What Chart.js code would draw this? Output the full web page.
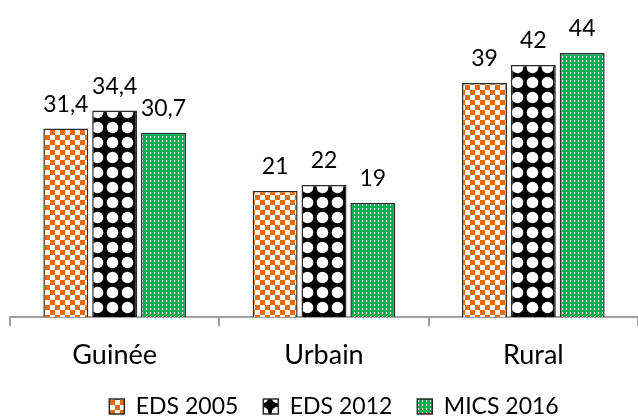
<!DOCTYPE html>
<html>
<head>
<meta charset="utf-8">
<script src="https://cdn.jsdelivr.net/npm/chart.js@4.4.1/dist/chart.umd.min.js"></script>
<style>
  html, body { margin: 0; padding: 0; background: #fff; }
  #wrap { width: 638px; height: 417px; }
</style>
</head>
<body>
<div id="wrap"><canvas id="chart" width="638" height="417"></canvas></div>
<script>
// Données
const categories = ['Guinée', 'Urbain', 'Rural'];
const seriesNames = ['EDS 2005', 'EDS 2012', 'MICS 2016'];
const eds2005 = [31.4, 21, 39];
const eds2012 = [34.4, 22, 42];
const mics2016 = [30.7, 19, 44];
const valueLabels = [
    ['31,4', '21', '39'],
    ['34,4', '22', '42'],
    ['30,7', '19', '44']
];

// Motifs de remplissage (style Excel)
function makePattern(size, draw) {
    const c = document.createElement('canvas');
    c.width = size;
    c.height = size;
    draw(c.getContext('2d'), size);
    return c.getContext('2d').createPattern(c, 'repeat');
}

const orangeChecker = makePattern(10, function(g, s) {
    g.fillStyle = '#ffffff';
    g.fillRect(0, 0, s, s);
    g.fillStyle = '#E36C09';
    g.fillRect(0, 0, 5, 5);
    g.fillRect(5, 5, 5, 5);
});

const blackDots = makePattern(15, function(g, s) {
    g.fillStyle = '#000000';
    g.fillRect(0, 0, s, s);
    g.fillStyle = '#ffffff';
    g.beginPath();
    g.arc(7.5, 7.5, 5.8, 0, Math.PI * 2);
    g.fill();
});

const greenDashes = makePattern(4, function(g, s) {
    g.fillStyle = '#00B050';
    g.fillRect(0, 0, s, s);
    g.fillStyle = '#ffffff';
    g.fillRect(2, 0, 1, 2);
});

// Étiquettes de valeur au-dessus des barres
const valueLabelPlugin = {
    id: 'valueLabels',
    afterDatasetsDraw(chart) {
        const ctx = chart.ctx;
        ctx.save();
        ctx.font = '23px Lato';
        ctx.fillStyle = '#000';
        ctx.textAlign = 'center';
        ctx.textBaseline = 'alphabetic';
        chart.data.datasets.forEach(function(ds, i) {
            chart.getDatasetMeta(i).data.forEach(function(bar, j) {
                ctx.fillText(valueLabels[i][j], bar.x, bar.y - 17);
            });
        });
        ctx.restore();
    }
};

// Légende plus compacte et un peu décalée à droite
const legendTweakPlugin = {
    id: 'legendTweak',
    beforeInit(chart) {
        const origFit = chart.legend.fit;
        chart.legend.fit = function() {
            origFit.call(this);
            this.height = 47;
        };
    },
    afterLayout(chart) {
        chart.legend.left += 10;
        chart.legend.right += 10;
    }
};

Chart.defaults.font.family = 'Lato';
Chart.defaults.color = '#000';

new Chart(document.getElementById('chart'), {
    type: 'bar',
    data: {
        labels: categories,
        datasets: [
            { label: seriesNames[0], data: eds2005, backgroundColor: orangeChecker },
            { label: seriesNames[1], data: eds2012, backgroundColor: blackDots },
            { label: seriesNames[2], data: mics2016, backgroundColor: greenDashes }
        ]
    },
    options: {
        responsive: false,
        devicePixelRatio: 1,
        animation: false,
        layout: { padding: { left: 10, right: 0, top: 17, bottom: 0 } },
        datasets: {
            bar: {
                borderColor: '#2b2b2b',
                borderWidth: 1.5,
                barPercentage: 0.92,
                categoryPercentage: 0.7
            }
        },
        plugins: {
            legend: {
                position: 'bottom',
                labels: {
                    font: { size: 23 },
                    boxWidth: 15,
                    boxHeight: 15,
                    padding: 25
                }
            },
            tooltip: { enabled: false }
        },
        scales: {
            x: {
                grid: {
                    display: true,
                    drawOnChartArea: false,
                    offset: true,
                    tickLength: 9,
                    color: '#a0a0a0',
                    lineWidth: 2
                },
                border: { color: '#a0a0a0', width: 2 },
                ticks: { font: { size: 27 }, padding: 13 },
                afterFit(scale) {
                    scale.height = 53;
                }
            },
            y: {
                display: false,
                min: 0,
                max: 50
            }
        }
    },
    plugins: [valueLabelPlugin, legendTweakPlugin]
});
</script>
</body>
</html>
